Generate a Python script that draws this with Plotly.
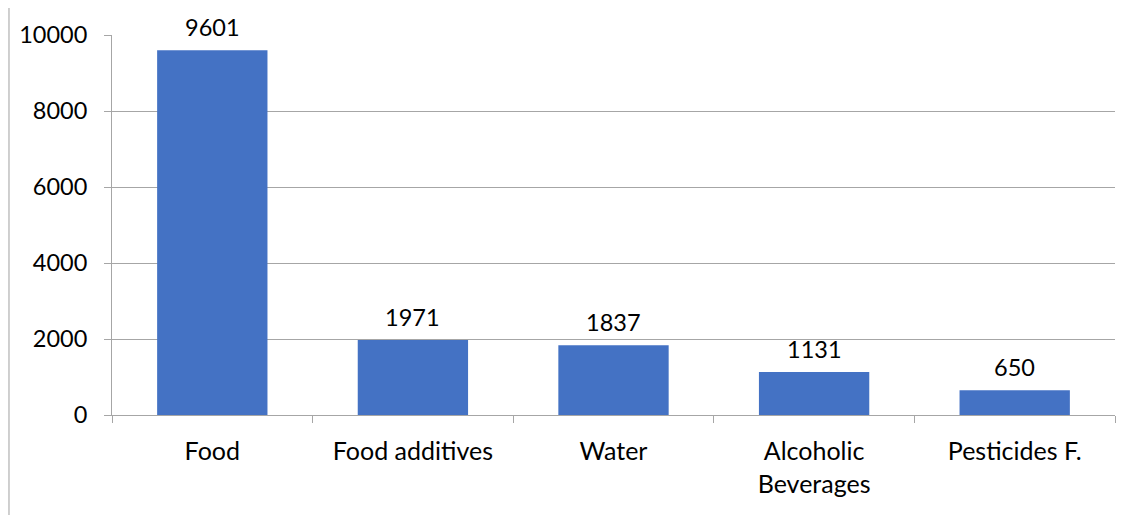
import plotly.graph_objects as go

categories = ["Food", "Food additives", "Water", "Alcoholic<br>Beverages", "Pesticides F."]
values = [9601, 1971, 1837, 1131, 650]
y_ticks = [0, 2000, 4000, 6000, 8000, 10000]
y_tick_labels = ["0", "2000", "4000", "6000", "8000", "10000"]

FONT = "Lato, Roboto, sans-serif"
BAR = "#4472C4"
GRID = "#a6a6a6"
CAT_SIZE = 25
NUM_SIZE = 23.5

fig = go.Figure(go.Bar(x=categories, y=values, marker=dict(color=BAR, line=dict(width=0)), width=0.55))

for c, v in zip(categories, values):
    fig.add_annotation(x=c, y=v, text=str(v), showarrow=False, yanchor="bottom", yshift=7,
                       font=dict(family=FONT, size=NUM_SIZE, color="#000000"))

fig.add_shape(type="rect", xref="paper", yref="paper", x0=-0.1027, x1=1.05, y0=-0.5, y1=1.0737,
              line=dict(color="#a0a0a0", width=1), layer="below")

# page body has an 8px margin, so the figure is 8px smaller and margins shifted
fig.update_layout(
    width=1124, height=507,
    margin=dict(l=104, r=17, t=27, b=100),
    paper_bgcolor="white", plot_bgcolor="white",
    showlegend=False,
    font=dict(family=FONT, size=CAT_SIZE, color="#000000"),
    bargap=0.45,
)
fig.update_xaxes(showline=True, linecolor=GRID, linewidth=1, ticks="outside", tickson="boundaries",
                 ticklen=7, tickcolor=GRID, showgrid=False, ticklabelstandoff=14,
                 tickfont=dict(family=FONT, size=CAT_SIZE, color="#000000"))
fig.update_yaxes(range=[0, 10000], tickvals=y_ticks, ticktext=y_tick_labels, showline=True, linecolor=GRID,
                 linewidth=1, ticks="outside", ticklen=7, tickcolor=GRID, showgrid=True, gridcolor=GRID,
                 gridwidth=1, zeroline=False, ticklabelstandoff=12,
                 tickfont=dict(family=FONT, size=NUM_SIZE, color="#000000"))

fig.write_html("out.html")
